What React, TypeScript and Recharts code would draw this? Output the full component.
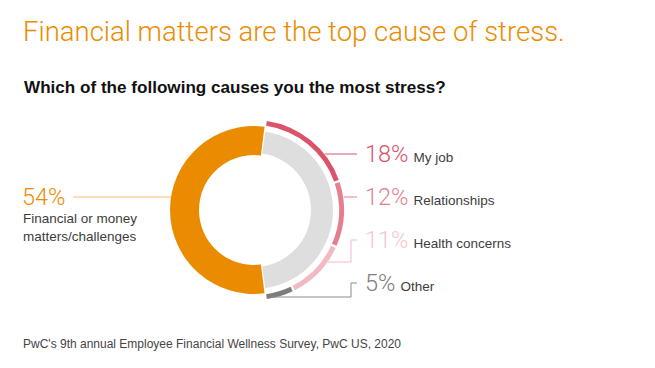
import { PieChart, Pie, Cell } from "recharts";

const mainNames = ["Financial or money matters/challenges", "Other causes"];
const mainValues = [54, 46];
const mainColors = ["#eb8c00", "#dedede"];

const otherNames = ["My job", "Relationships", "Health concerns", "Other"];
const otherValues = [18, 12, 11, 5];
const otherColors = ["#db536a", "#e57f8f", "#f2b9c3", "#7d7d7d"];
const otherPctColors = ["#db536a", "#e57f8f", "#f5c6ce", "#7d7d7d"];

const W = 655;
const H = 368;
// recharts adds the default 5px margin to cx/cy
const CX = 249;
const CY = 205;
const FONT = "'Liberation Sans', Arial, Helvetica, sans-serif";
const LIGHT = "Roboto, 'Liberation Sans', Arial, sans-serif";

// start angle so the orange slice is centered on the left
const orangeSweep = (mainValues[0] / 100) * 360;
const START = 180 - orangeSweep / 2; // ~82.8 deg
const mainData = mainNames.map((name, i) => ({ name, value: mainValues[i] }));
const otherData = otherNames.map((name, i) => ({ name, value: otherValues[i] }));
const otherEnd = START - (otherValues.reduce((a, b) => a + b, 0) / 100) * 360;

// label rows for the right side (y offset from centre)
const rowY = [-56, -13, 30, 73];
// where the leader line meets the arc (y offset from centre), null = same as row
const hitY: (number | null)[] = [null, null, 52, 87];

function OtherLabel(props: any) {
  const { index, cx, cy, outerRadius } = props;
  const r = outerRadius - 2;
  const ly = cy + rowY[index];
  const hy = hitY[index] == null ? ly : cy + (hitY[index] as number);
  const hx = cx + Math.sqrt(Math.max(r * r - (hy - cy) * (hy - cy), 0)) + 3;
  const ex = 357;
  const col = otherPctColors[index];
  const lineCol = index === 3 ? "#8a8a8a" : otherColors[index];
  const path =
    hitY[index] == null
      ? `M${hx},${ly}H${ex}`
      : `M${hx},${hy}H${ex - 6}V${ly}H${ex}`;
  return (
    <g>
      <path d={path} stroke={lineCol} strokeWidth={1} fill="none" />
      <text x={ex + 8} y={ly + 8} fontFamily={LIGHT} fontWeight={300} fontSize={23.5} fill={col}>
        {otherValues[index]}%
        <tspan dx={5} fontFamily={FONT} fontWeight={400} fontSize={13.5} fill="#3d3d3d">
          {otherNames[index]}
        </tspan>
      </text>
    </g>
  );
}

function MainLabel(props: any) {
  const { index, cx, cy, outerRadius } = props;
  if (index !== 0) return null;
  const ly = cy - 13;
  const hx = cx - Math.sqrt(outerRadius * outerRadius - 13 * 13);
  return (
    <g>
      <path d={`M73,${ly}H${hx}`} stroke="#f3bd6f" strokeWidth={1} fill="none" />
      <text x={22} y={ly + 8} fontFamily={LIGHT} fontWeight={300} fontSize={23.5} fill="#eb8c00">
        {mainValues[0]}%
      </text>
      <text fontFamily={FONT} fontSize={13.5} fill="#3d3d3d">
        <tspan x={23} y={ly + 26}>Financial or money</tspan>
        <tspan x={23} y={ly + 44}>matters/challenges</tspan>
      </text>
    </g>
  );
}

export default function App() {
  return (
    <div style={{ position: "fixed", left: 0, top: 0, width: W, height: H, background: "#fff" }}>
      <div
        style={{
          position: "absolute",
          left: 23,
          top: 15,
          fontFamily: LIGHT,
          fontWeight: 300,
          fontSize: 27.5,
          color: "#eb8c00",
          whiteSpace: "nowrap",
        }}
      >
        Financial matters are the top cause of stress.
      </div>
      <div
        style={{
          position: "absolute",
          left: 24,
          top: 78,
          fontFamily: FONT,
          fontWeight: 700,
          fontSize: 17.1,
          color: "#111",
          whiteSpace: "nowrap",
        }}
      >
        Which of the following causes you the most stress?
      </div>
      <div
        style={{
          position: "absolute",
          left: 23,
          top: 337,
          fontFamily: FONT,
          fontSize: 12,
          color: "#444",
          whiteSpace: "nowrap",
        }}
      >
        PwC's 9th annual Employee Financial Wellness Survey, PwC US, 2020
      </div>
      <div style={{ position: "absolute", left: 0, top: 0 }}>
        <PieChart width={W} height={H}>
          <Pie
            data={mainData.slice(0, 1)}
            dataKey="value"
            cx={CX}
            cy={CY}
            innerRadius={55}
            outerRadius={84}
            startAngle={START}
            endAngle={START + orangeSweep}
            stroke="none"
            label={MainLabel}
            labelLine={false}
            isAnimationActive={false}
          >
            <Cell fill={mainColors[0]} />
          </Pie>
          <Pie
            data={mainData.slice(1)}
            dataKey="value"
            cx={CX}
            cy={CY}
            innerRadius={57}
            outerRadius={79}
            startAngle={START - 1}
            endAngle={otherEnd + 1}
            stroke="none"
            isAnimationActive={false}
          >
            <Cell fill={mainColors[1]} />
          </Pie>
          <Pie
            data={otherData}
            dataKey="value"
            cx={CX}
            cy={CY}
            innerRadius={85}
            outerRadius={90}
            startAngle={START - 1}
            endAngle={otherEnd + 1}
            paddingAngle={1.5}
            stroke="none"
            label={OtherLabel}
            labelLine={false}
            isAnimationActive={false}
          >
            {otherData.map((d, i) => (
              <Cell key={d.name} fill={otherColors[i]} />
            ))}
          </Pie>
        </PieChart>
      </div>
    </div>
  );
}
